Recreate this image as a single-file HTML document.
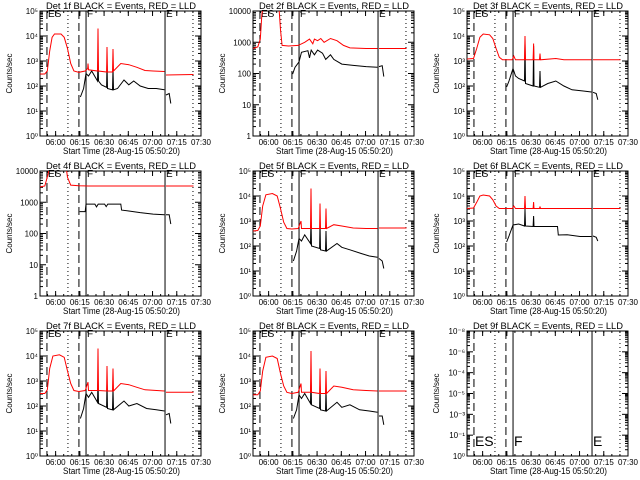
<!DOCTYPE html>
<html><head><meta charset="utf-8"><style>
body{margin:0;background:#fff;}
svg{display:block;font-family:"Liberation Sans",sans-serif;}
</style></head><body>
<svg id="c" width="640" height="480"></svg>
<script>
// time in minutes after 05:50:20 ; values are log10(counts/sec)
const detNames = ["1f","2f","3f","4f","5f","6f","7f","8f","9f"];
const tickClock = ["06:00","06:15","06:30","06:45","07:00","07:15","07:30"];
const tickMinutes = [9.67,24.67,39.67,54.67,69.67,84.67,99.67];
const dashedLines = [4.3,24.1];
const dottedLines = [17.3,94.7];
const solidLines = [28.5,77.4];
const yRanges = [[0,5],[0,4],[0,5],[0,4],[0,5],[0,5],[0,5],[0,5],[0,6]];
const yLabelsExp = [["10⁰","10¹","10²","10³","10⁴","10⁵"],["1","10","100","1000","10000"],["10⁰","10¹","10²","10³","10⁴","10⁵"],["1","10","100","1000","10000"],["10⁰","10¹","10²","10³","10⁴","10⁵"],["10⁰","10¹","10²","10³","10⁴","10⁵"],["10⁰","10¹","10²","10³","10⁴","10⁵"],["10⁰","10¹","10²","10³","10⁴","10⁵"],["10⁰","10⁻¹","10⁻³","10⁻⁵","10⁻⁴","10⁻⁶","10⁻⁸"]];

const red1 = [[0,2.48],[3,2.48],[4.5,2.6],[6,3.4],[7.5,3.95],[9,4.08],[13,4.08],[15,3.95],[17,3.5],[19,2.9],[21,2.6],[24,2.55],[28,2.6],[29.5,2.7],[29.7,2.9],[30,2.65],[35.6,2.6],[35.9,4.3],[36.2,2.6],[41.2,2.56],[41.5,3.56],[41.8,2.56],[44.9,2.56],[45.2,3.48],[45.5,2.6],[50,2.9],[55,2.85],[60,2.75],[65,2.62],[70,2.6],[77,2.58],null,[78,2.44],[95,2.46]];
const blk1 = [[25,1.56],[27,1.9],[28.5,2.5],[30,2.4],[32,2.6],[35.6,2.2],[35.9,3.04],[36.2,2.2],[38,2.05],[41.2,1.95],[41.5,2.9],[41.8,1.9],[44.9,1.85],[45.2,2.7],[45.5,1.85],[48,1.9],[52,2.24],[55,2.05],[58,2.2],[62,2.0],[67,1.9],[72,1.9],[77,1.85],null,[78,1.64],[80,1.7],[81,1.3]];
const red2 = [[0,2.8],[3,2.85],[4.5,3.1],[5.5,3.9],[6.5,4.2],[16,4.2],[17,3.4],[18,2.9],[22,2.88],[28,2.9],[32,3.0],[35,3.1],[37,2.95],[38,3.1],[40,3.05],[42,3.12],[44,3.0],[48,3.12],[52,3.05],[56,2.9],[60,2.82],[70,2.8],[77,2.8],null,[78,2.8],[95,2.8]];
const blk2 = [[24.5,1.98],[26,2.2],[28.5,2.37],[30,2.68],[34,2.73],[35,2.5],[36,2.75],[38,2.6],[40,2.75],[43,2.65],[45,2.45],[48,2.6],[50,2.45],[55,2.3],[62,2.26],[70,2.22],[77,2.2],null,[78,2.22],[80,2.25],[81,1.9]];
const red3 = [[0,3.08],[4,3.1],[6,3.5],[8,3.95],[10,4.08],[14,4.05],[16,3.9],[18,3.5],[20,3.15],[22,3.05],[28,3.05],[29,3.2],[30,3.05],[35.6,3.05],[35.9,4.0],[36.2,3.05],[40.9,3.05],[41.2,3.7],[41.5,3.05],[44.9,3.05],[45.2,3.3],[45.5,3.05],[55,3.1],[60,3.05],[77,3.05],null,[78,3.05],[95,3.05]];
const blk3 = [[24.5,1.96],[26,2.2],[28.5,2.7],[30,2.4],[32,2.3],[35.6,2.2],[35.9,3.7],[36.2,2.1],[40.9,2.0],[41.2,3.6],[41.5,2.0],[44.9,1.95],[45.2,2.6],[45.5,1.95],[50,2.1],[55,2.2],[60,2.0],[65,1.85],[72,1.8],[77,1.76],null,[78,1.75],[80,1.7],[81,1.45]];
const red4 = [[0,3.49],[3,3.52],[5,3.9],[6,4.2],[16,4.2],[17,3.8],[19,3.55],[24,3.53],[30,3.52],[45,3.52],[60,3.52],[77,3.52],null,[78,3.52],[95,3.52]];
const blk4 = [[24.5,2.7],[28,2.7],[28.5,2.94],[34,2.94],[35,2.85],[36,2.94],[40,2.94],[41,2.86],[42,2.94],[50,2.94],[50.5,2.75],[55,2.72],[62,2.67],[70,2.62],[77,2.6],null,[78,2.6],[80,2.6],[81,2.3]];
const red5 = [[0,2.6],[3,2.62],[4.5,2.8],[6,3.6],[8,4.05],[12,4.1],[15,4.0],[17,3.5],[19,2.95],[21,2.7],[24,2.68],[28,2.7],[29.7,3.0],[30,2.7],[35.6,2.7],[35.9,4.3],[36.2,2.7],[41.2,2.7],[41.5,3.7],[41.8,2.7],[44.9,2.7],[45.2,3.5],[45.5,2.7],[50,2.85],[55,2.8],[62,2.72],[70,2.7],[77,2.7],null,[78,2.72],[95,2.72]];
const blk5 = [[25,1.4],[27,1.8],[28.5,2.3],[30,2.2],[32,2.45],[35.6,2.1],[35.9,3.0],[36.2,2.0],[41.2,1.9],[41.5,2.9],[41.8,1.85],[44.9,1.8],[45.2,2.6],[45.5,1.8],[52,2.1],[55,1.95],[60,1.85],[67,1.7],[72,1.6],[77,1.55],null,[78,1.5],[80,1.4],[81,1.1]];
const red6 = [[0,3.5],[4,3.52],[6,3.75],[8,4.0],[10,4.04],[14,4.0],[16,3.85],[18,3.6],[20,3.5],[28,3.5],[29,3.6],[30,3.5],[35.6,3.5],[35.9,4.0],[36.2,3.5],[40.9,3.5],[41.2,3.76],[41.5,3.5],[44.9,3.5],[45.2,3.58],[45.5,3.5],[60,3.5],[77,3.5],null,[78,3.5],[95,3.5]];
const blk6 = [[24.5,2.16],[26,2.4],[28.5,2.84],[32,2.88],[35.6,2.8],[35.9,3.48],[36.2,2.8],[40.9,2.78],[41.2,3.2],[41.5,2.78],[50,2.78],[56,2.78],[56.5,2.44],[62,2.45],[70,2.38],[77,2.38],null,[78,2.4],[80,2.35],[81,2.2]];
const red7 = [[0,2.5],[3,2.5],[4.5,2.65],[6,3.5],[8,4.0],[12,4.05],[15,3.95],[17,3.4],[19,2.9],[21,2.62],[24,2.58],[28,2.62],[29.7,2.95],[30,2.62],[35.6,2.62],[35.9,4.3],[36.2,2.62],[41.2,2.6],[41.5,3.6],[41.8,2.6],[44.9,2.6],[45.2,3.5],[45.5,2.6],[50,2.9],[55,2.85],[60,2.75],[65,2.65],[77,2.6],null,[78,2.55],[95,2.55]];
const blk7 = [[25,1.5],[27,1.9],[28.5,2.5],[30,2.35],[32,2.55],[35.6,2.15],[35.9,3.0],[36.2,2.1],[41.2,1.95],[41.5,2.9],[41.8,1.9],[44.9,1.85],[45.2,2.7],[45.5,1.85],[52,2.2],[55,2.0],[60,2.1],[66,1.9],[72,1.85],[77,1.8],null,[78,1.65],[80,1.7],[81,1.3]];
const red8 = [[0,2.45],[3,2.45],[4.5,2.6],[6,3.4],[8,3.95],[12,4.0],[15,3.9],[17,3.3],[19,2.8],[21,2.55],[24,2.5],[28,2.55],[29.7,2.9],[30,2.55],[35.6,2.55],[35.9,4.2],[36.2,2.55],[41.2,2.5],[41.5,3.5],[41.8,2.5],[44.9,2.5],[45.2,3.4],[45.5,2.5],[50,2.8],[55,2.75],[62,2.65],[70,2.62],[77,2.6],null,[78,2.6],[95,2.6]];
const blk8 = [[25,1.5],[27,1.85],[28.5,2.45],[30,2.3],[32,2.5],[35.6,2.1],[35.9,3.0],[36.2,2.05],[41.2,1.9],[41.5,2.85],[41.8,1.85],[44.9,1.8],[45.2,2.65],[45.5,1.8],[52,2.15],[55,1.95],[60,2.05],[66,1.85],[72,1.8],[77,1.75],null,[78,1.6],[80,1.6],[81,1.25]];
const redSeries = [red1,red2,red3,red4,red5,red6,red7,red8,[]];
const blackSeries = [blk1,blk2,blk3,blk4,blk5,blk6,blk7,blk8,[]];

const NS="http://www.w3.org/2000/svg";
const svg=document.getElementById('c');
function mk(tag,attrs,parent){const e=document.createElementNS(NS,tag);for(const k in attrs)e.setAttribute(k,attrs[k]);(parent||svg).appendChild(e);return e;}
const L=40,R=201,T=11,B=136,TMAX=99.67;

for(let p=0;p<9;p++){
  const ox=Math.round((p%3)*213.33), oy=Math.floor(p/3)*160;
  const g=mk('g',{transform:`translate(${ox},${oy})`});
  
  
  const xs=t=>L+t/TMAX*(R-L);
  const [y0,y1]=yRanges[p];
  const ys=v=>B-(v-y0)/(y1-y0)*(B-T);
  const clip=mk('clipPath',{id:'cl'+p},g);
  mk('rect',{x:L,y:T,width:R-L,height:B-T},clip);
  const t1=mk('text',{x:46,y:9,'font-size':'9.5',textLength:150,lengthAdjust:'spacingAndGlyphs'},g);
  t1.textContent='Det '+detNames[p]+' BLACK = Events, RED = LLD';
  
  
  const yt=mk('text',{x:0,y:0,transform:`translate(12,${(T+B)/2}) rotate(-90)`,'text-anchor':'middle','font-size':'8'},g);
  yt.textContent='Counts/sec';
  
  
  const xt=mk('text',{x:63,y:154,'font-size':'9',textLength:117,lengthAdjust:'spacingAndGlyphs'},g);
  xt.textContent='Start Time (28-Aug-15 05:50:20)';
  
  
  tickMinutes.forEach((m,i)=>{
    const x=xs(m);
    mk('line',{x1:x,x2:x,y1:B,y2:B-5,stroke:'#000'},g);
    mk('line',{x1:x,x2:x,y1:T,y2:T+5,stroke:'#000'},g);
    const tl=mk('text',{x:x,y:145,'text-anchor':'middle','font-size':'8'},g);
    tl.textContent=tickClock[i];
    
    
  });
  for(let m=-0.33;m<TMAX;m+=5){const x=xs(m);if(x<=L)continue;mk('line',{x1:x,x2:x,y1:B,y2:B-2,stroke:'#000'},g);mk('line',{x1:x,x2:x,y1:T,y2:T+2,stroke:'#000'},g);}
  const labs=yLabelsExp[p];
  labs.forEach((s,i)=>{
    const y=B-i/(labs.length-1)*(B-T);
    mk('line',{x1:L,x2:L+6,y1:y,y2:y,stroke:'#000'},g);
    mk('line',{x1:R,x2:R-6,y1:y,y2:y,stroke:'#000'},g);
    const tl=mk('text',{x:L-2,y:y+3,'text-anchor':'end','font-size':'8'},g);
    tl.textContent=s;
    
    
  });
  for(let d=y0;d<y1;d++){for(let k=2;k<10;k++){const y=ys(d+Math.log10(k));mk('line',{x1:L,x2:L+3,y1:y,y2:y,stroke:'#000'},g);mk('line',{x1:R,x2:R-3,y1:y,y2:y,stroke:'#000'},g);}}
  mk('rect',{x:L,y:T,width:R-L,height:B-T,fill:'none',stroke:'#000','stroke-width':1},g);
  dashedLines.forEach(m=>{const e=mk('line',{x1:xs(m),x2:xs(m),y1:T,y2:B,stroke:'#000','stroke-dasharray':'8,4'},g);});
  dottedLines.forEach(m=>{const e=mk('line',{x1:xs(m),x2:xs(m),y1:T,y2:B,stroke:'#000','stroke-dasharray':'1,3'},g);});
  solidLines.forEach(m=>{const e=mk('line',{x1:xs(m),x2:xs(m),y1:T,y2:B,stroke:'#000'},g);});
  const lbY = p===8?126:17, fs=p===8?14:10;
  [["ES",dashedLines[0]],["F",solidLines[0]],["E",solidLines[1]]].forEach(([s,m])=>{
    const e=mk('text',{x:xs(m)+1,y:lbY,'font-size':fs},g);
    e.textContent=s;
    
    
  });
  function draw(arr,color,name){
    if(!arr.length)return;
    let d='',pen=false;
    arr.forEach(pt=>{if(!pt){pen=false;return;}d+=(pen?'L':'M')+xs(pt[0]).toFixed(1)+','+ys(pt[1]).toFixed(1);pen=true;});
    const e=mk('path',{d:d,fill:'none',stroke:color,'stroke-width':1,'clip-path':`url(#cl${p})`},g);
    
    
  }
  draw(blackSeries[p],'#000','events-line');
  draw(redSeries[p],'#f00','lld-line');
}
</script>
</body></html>
